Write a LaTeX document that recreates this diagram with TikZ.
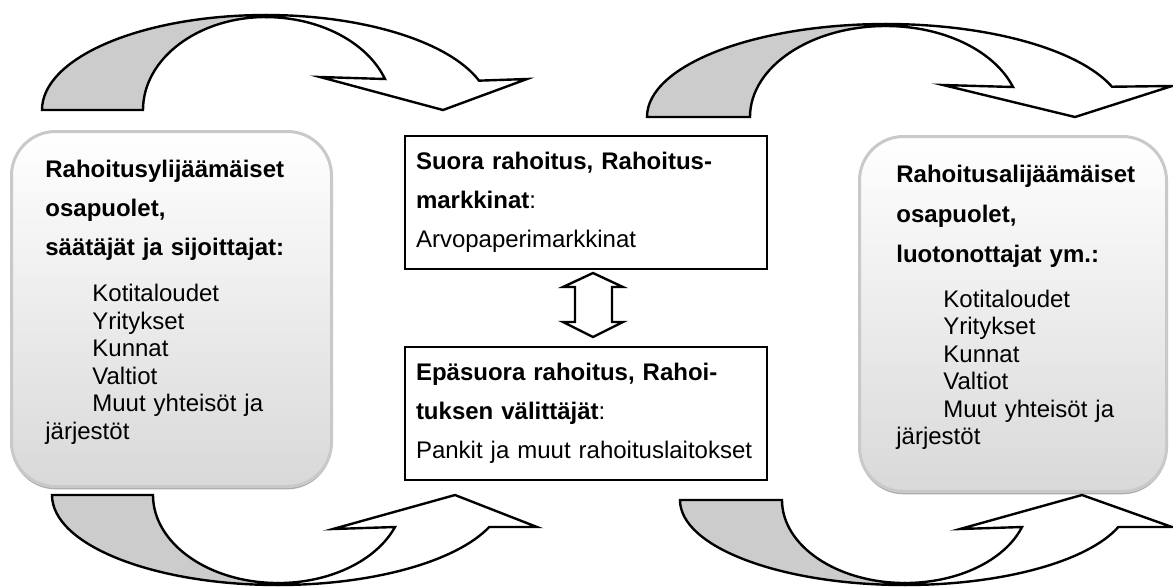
\documentclass[tikz,border=0pt]{standalone}
\usepackage{fontspec}
\setmainfont{Liberation Sans}
\usetikzlibrary{positioning, shadows}
\setlength{\lineskiplimit}{-100pt}

\tikzset{
  party/.style={draw=gray!42, line width=1.5pt, rounded corners=22pt,
    top color=white, bottom color=gray!30, minimum width=160pt,
    minimum height=177.5pt, inner sep=0pt, anchor=north west,
    drop shadow={shadow xshift=0pt, shadow yshift=-1.4pt, fill=gray!65, opacity=1}},
  partytext/.style={inner sep=0pt, text width=135pt, align=left,
    font=\fontsize{12}{13.75}\selectfont},
  flowbox/.style={draw, line width=1.2pt, minimum width=181pt,
    minimum height=66.5pt, inner xsep=5.5pt, text width=170pt, align=left,
    font=\fontsize{12}{19.5}\selectfont},
  backpart/.style={draw, line width=1.2pt, fill=gray!40, line join=miter},
  frontpart/.style={draw, line width=1.2pt, fill=white, line join=miter},
}

\begin{document}
\begin{tikzpicture}[x=0.5pt, y=-0.5pt]
\useasboundingbox (0,0) rectangle (1173,586);

% rounded boxes
\node (lender) [party] at (10,130) {};
\node (borrower) [party, minimum width=153.5pt] at (858,135) {};

\node (lendertext) [partytext, below right=14.75pt and 17.5pt of lender.north west] {%
\textbf{Rahoitusylijäämäiset}\\[5.75pt]
\textbf{osapuolet,}\\[5.75pt]
\textbf{säätäjät ja sijoittajat:}\\[9.5pt]
\hspace*{23.5pt}Kotitaloudet\\
\hspace*{23.5pt}Yritykset\\
\hspace*{23.5pt}Kunnat\\
\hspace*{23.5pt}Valtiot\\
\hspace*{23.5pt}Muut yhteisöt ja\\
järjestöt};

\node (borrowertext) [partytext, below right=14.75pt and 19pt of borrower.north west] {%
\textbf{Rahoitusalijäämäiset}\\[6.25pt]
\textbf{osapuolet,}\\[6.25pt]
\textbf{luotonottajat ym.:}\\[8.75pt]
\hspace*{23.5pt}Kotitaloudet\\
\hspace*{23.5pt}Yritykset\\
\hspace*{23.5pt}Kunnat\\
\hspace*{23.5pt}Valtiot\\
\hspace*{23.5pt}Muut yhteisöt ja\\
järjestöt};

% middle boxes
\node (direct) [flowbox] at (586,202.5) {%
\makebox[160pt][s]{\textbf{Suora rahoitus, Rahoitus-}}\\
\textbf{markkinat}:\\
Arvopaperimarkkinat};
\node (indirect) [flowbox] at (586,413.5) {%
\makebox[159pt][s]{\textbf{Epäsuora rahoitus, Rahoi-}}\\
\textbf{tuksen välittäjät}:\\
Pankit ja muut rahoituslaitokset};

% up-down arrow between them
\draw[frontpart] (575,287) -- (563,287) -- (593,273) -- (623,287) -- (612,287)
  -- (612,322) -- (623,322) -- (593,337) -- (563,322) -- (575,322) -- cycle;

% top left curved arrow
\draw[backpart] (42,110) arc[start angle=180, end angle=270, x radius=224, y radius=95]
  -- (266,17) arc[start angle=270, end angle=180, x radius=123, y radius=93] -- cycle;
\draw[frontpart] (266,15) arc[start angle=270, end angle=342, x radius=224, y radius=95]
  -- (527,79) -- (443,110) -- (320,77) -- (385,79)
  arc[start angle=340.5, end angle=270, x radius=127, y radius=93] -- cycle;

% top right curved arrow
\draw[backpart] (647,117) arc[start angle=180, end angle=270, x radius=239, y radius=93]
  -- (886,26) arc[start angle=270, end angle=180, x radius=136, y radius=91] -- cycle;
\draw[frontpart] (886,24) arc[start angle=270, end angle=341, x radius=239, y radius=93]
  -- (1172,86) -- (1075,117) -- (943,85) -- (1013,87)
  arc[start angle=340.75, end angle=270, x radius=134.5, y radius=91] -- cycle;

% bottom left curved arrow
\draw[backpart] (52,495) arc[start angle=180, end angle=90, x radius=226, y radius=90]
  -- (278,583) arc[start angle=90, end angle=180, x radius=125, y radius=88] -- cycle;
\draw[frontpart] (278,585) arc[start angle=90, end angle=20.8, x radius=226, y radius=90]
  -- (537,527) -- (455,495) -- (333,529) -- (395,527)
  arc[start angle=21.3, end angle=90, x radius=125.5, y radius=88] -- cycle;

% bottom right curved arrow
\draw[backpart] (680,500) arc[start angle=180, end angle=90, x radius=225, y radius=85]
  -- (905,583) arc[start angle=90, end angle=180, x radius=123, y radius=83] -- cycle;
\draw[frontpart] (905,585) arc[start angle=90, end angle=18.5, x radius=225, y radius=85]
  -- (1172,527) -- (1082,495) -- (960,529) -- (1022,527)
  arc[start angle=18.98, end angle=90, x radius=123.7, y radius=83] -- cycle;
\end{tikzpicture}
\end{document}
